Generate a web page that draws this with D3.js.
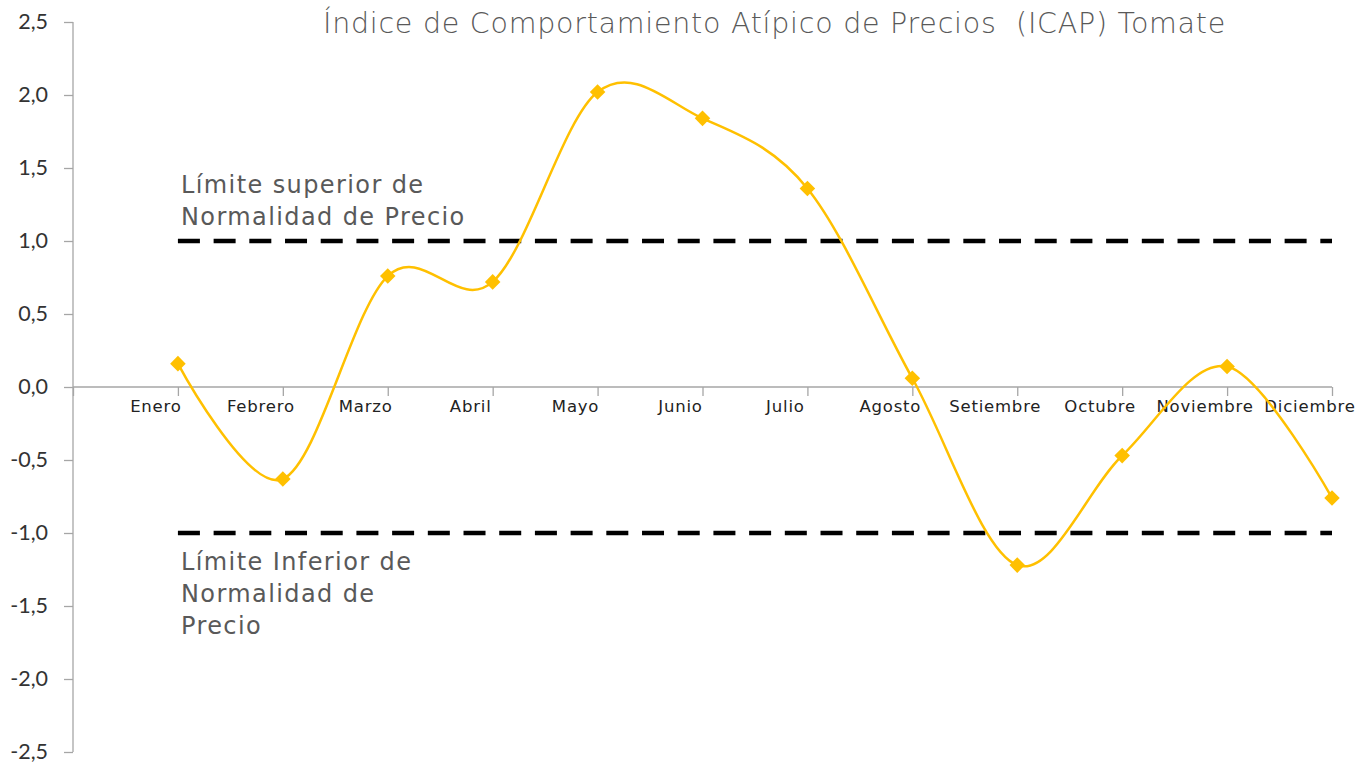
<!DOCTYPE html>
<html><head><meta charset="utf-8">
<script src="https://cdn.jsdelivr.net/npm/d3@7"></script>
<style>html,body{margin:0;padding:0;background:#fff;}svg{display:block;}</style>
</head><body>
<svg id="chart" width="1370" height="767"></svg>
<script>
const months = ["Enero","Febrero","Marzo","Abril","Mayo","Junio","Julio","Agosto","Setiembre","Octubre","Noviembre","Diciembre"];
const icap = [0.16,-0.63,0.76,0.72,2.02,1.84,1.36,0.06,-1.22,-0.47,0.14,-0.76];
const upperLimit = 1.0;
const lowerLimit = -1.0;
const yTicks = [2.5,2.0,1.5,1.0,0.5,0.0,-0.5,-1.0,-1.5,-2.0,-2.5];
const title = "Índice de Comportamiento Atípico de Precios  (ICAP) Tomate";
const upperLabel = ["Límite superior de","Normalidad de Precio"];
const lowerLabel = ["Límite Inferior de","Normalidad de","Precio"];

const svg = d3.select("#chart");
const gold = "#FFC000", axisCol = "#a6a6a6", textCol = "#595959";

const x = d3.scaleLinear().domain([0, months.length]).range([73, 1332]);
const y = d3.scaleLinear().domain([-2.5, 2.5]).range([752, 22]);

const loc = d3.formatLocale({decimal:",", thousands:".", grouping:[3], currency:["",""], minus:"-"});
const fmt = loc.format(".1f");

// Y axis
const yAxis = svg.append("g").attr("transform", `translate(${x(0)},0)`)
  .call(d3.axisLeft(y).tickValues(yTicks).tickFormat(fmt).tickSize(9).tickPadding(16));
yAxis.select(".domain").attr("stroke", axisCol).attr("stroke-width", 1.3).attr("d", `M0,${y(2.5)}V${y(-2.5)}`);
yAxis.selectAll(".tick line").attr("stroke", axisCol).attr("stroke-width", 1.3);
yAxis.selectAll(".tick text").attr("fill", "#333").style("font-family", "Lato, 'Liberation Sans', sans-serif").style("font-size", "21.5px");

// X axis at zero
const xAxis = svg.append("g").attr("transform", `translate(0,${y(0)})`)
  .call(d3.axisBottom(x).tickValues(d3.range(0, months.length + 1)).tickFormat("").tickSize(9));
xAxis.select(".domain").attr("stroke", axisCol).attr("stroke-width", 1.3).attr("d", `M${x(0)},0H${x(months.length)}`);
xAxis.selectAll(".tick line").attr("stroke", axisCol).attr("stroke-width", 1.3);

svg.append("g").selectAll("text").data(months).join("text")
  .attr("x", (d, i) => x(i + 1) - 22)
  .attr("y", y(0) + 25)
  .attr("text-anchor", "middle")
  .attr("fill", "#222")
  .style("font-family", "'DejaVu Sans', sans-serif")
  .style("font-size", "16.5px")
  .style("letter-spacing", "0.8px")
  .text(d => d);

// Limit lines
[upperLimit, lowerLimit].forEach(v => {
  svg.append("line")
    .attr("x1", x(1)).attr("x2", x(months.length))
    .attr("y1", y(v)).attr("y2", y(v))
    .attr("stroke", "#000").attr("stroke-width", 4.5)
    .attr("stroke-dasharray", "22,13.7");
});

// Series line
const line = d3.line().x((d, i) => x(i + 1)).y(d => y(d)).curve(d3.curveCardinal.tension(0));
svg.append("path").datum(icap).attr("d", line).attr("fill", "none").attr("stroke", gold).attr("stroke-width", 2.5);

svg.append("g").selectAll("path").data(icap).join("path")
  .attr("transform", (d, i) => `translate(${x(i + 1)},${y(d)}) rotate(45)`)
  .attr("d", "M-5.5,-5.5H5.5V5.5H-5.5Z")
  .attr("fill", gold);

// Annotations
const annFont = "'DejaVu Sans', sans-serif";
function annot(lines, y0) {
  svg.append("text").attr("x", 181).attr("y", y0).attr("fill", textCol)
    .style("font-family", annFont).style("font-size", "24px").style("letter-spacing", "1.4px")
    .selectAll("tspan").data(lines).join("tspan")
    .attr("x", 181).attr("dy", (d, i) => i ? 32 : 0).text(d => d);
}
annot(upperLabel, 193);
annot(lowerLabel, 570);

// Title
const t = svg.append("text").attr("x", 323).attr("y", 33)
  .attr("fill", textCol).attr("xml:space", "preserve").style("white-space", "pre")
  .style("font-family", "'DejaVu Sans', sans-serif")
  .style("font-weight", 200).style("font-size", "28.5px").text(title);
const w = t.node().getComputedTextLength();
t.style("letter-spacing", ((903 - w) / title.length).toFixed(3) + "px");
</script>
</body></html>
